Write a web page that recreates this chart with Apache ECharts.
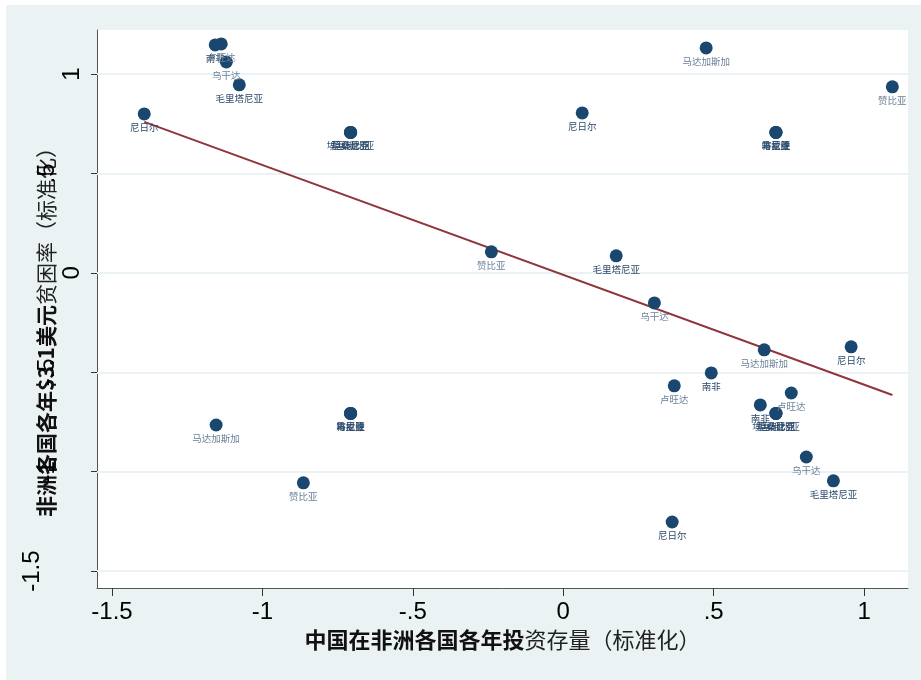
<!DOCTYPE html>
<html>
<head>
<meta charset="utf-8">
<script src="https://cdn.jsdelivr.net/npm/echarts@6/dist/echarts.min.js"></script>
<style>
	html, body { margin: 0; padding: 0; background: #fff; }
	#chart { position: absolute; left: 6px; top: 5px; width: 915px; height: 675px; }
</style>
</head>
<body>
<div id="chart"></div>
<script>
	// 国家名称（每个点的标签）
	var names = [
		'南非', '卢旺达', '乌干达', '毛里塔尼亚', '尼日尔',
		'埃塞俄比亚', '坦桑尼亚', '莫桑比克',
		'马达加斯加', '赞比亚', '尼日尔',
		'喀麦隆', '肯尼亚', '马拉维',
		'赞比亚', '毛里塔尼亚', '乌干达', '马达加斯加', '尼日尔',
		'南非', '卢旺达', '卢旺达', '南非',
		'埃塞俄比亚', '坦桑尼亚', '莫桑比克',
		'乌干达', '毛里塔尼亚', '尼日尔', '马达加斯加',
		'喀麦隆', '肯尼亚', '马拉维',
		'赞比亚'
	];
	// 中国投资存量（标准化）
	var invest = [
		-1.157, -1.137, -1.120, -1.077, -1.393,
		-0.707, -0.707, -0.707,
		0.475, 1.094, 0.063,
		0.707, 0.707, 0.707,
		-0.239, 0.176, 0.303, 0.668, 0.957,
		0.492, 0.369, 0.758, 0.655,
		0.707, 0.707, 0.707,
		0.808, 0.898, 0.362, -1.154,
		-0.707, -0.707, -0.707,
		-0.864
	];
	// $3.1 贫困率（标准化）
	var poverty = [
		1.147, 1.152, 1.061, 0.946, 0.800,
		0.707, 0.707, 0.707,
		1.132, 0.936, 0.805,
		0.707, 0.707, 0.707,
		0.106, 0.086, -0.151, -0.387, -0.372,
		-0.503, -0.568, -0.604, -0.664,
		-0.707, -0.707, -0.707,
		-0.926, -1.046, -1.253, -0.765,
		-0.707, -0.707, -0.707,
		-1.056
	];
	// 拟合线
	var fitX = [-1.393, 1.094];
	var fitY = [0.760, -0.614];
	var xTicks = [-1.5, -1, -0.5, 0, 0.5, 1];
	var yTicks = [-1.5, -1, -0.5, 0, 0.5, 1];

	var lightNames = ['马达加斯加', '乌干达', '赞比亚', '卢旺达'];

	function fmt(v) {
		var s = String(v);
		return s.replace('0.', '.');
	}

	var points = [];
	for (var i = 0; i < names.length; i++) {
		points.push({
			name: names[i],
			value: [invest[i], poverty[i]],
			label: { color: lightNames.indexOf(names[i]) >= 0 ? '#6b819b' : '#2c4a6c' }
		});
	}
	var fitData = [];
	for (var j = 0; j < fitX.length; j++) {
		fitData.push([fitX[j], fitY[j]]);
	}

	var myChart = echarts.init(document.getElementById('chart'));

	function yAxisPart(vals, margin, showLine) {
		return {
			type: 'value',
			min: -1.585,
			max: 1.222,
			position: 'left',
			axisLine: { show: showLine, onZero: false, lineStyle: { color: '#555', width: 1 } },
			axisTick: { show: showLine, length: 6, customValues: yTicks, lineStyle: { color: '#333' } },
			splitLine: { show: false },
			axisLabel: {
				customValues: vals,
				rotate: 90,
				margin: margin,
				fontFamily: 'Liberation Sans',
				fontSize: 24,
				color: '#000',
				formatter: fmt
			}
		};
	}

	var option = {
		backgroundColor: '#eaf2f3',
		animation: false,
		grid: {
			left: 91, top: 25, right: 13, bottom: 92,
			show: true, backgroundColor: '#fff', borderWidth: 0
		},
		xAxis: {
			type: 'value',
			min: -1.55,
			max: 1.146,
			name: '{b|中国在非洲各国各年投}{n|资存量（标准化）}',
			nameLocation: 'middle',
			nameGap: 38,
			nameTextStyle: {
				rich: {
					b: { fontFamily: 'Noto Sans CJK SC', fontSize: 22, fontWeight: 'bold', color: '#111' },
					n: { fontFamily: 'Noto Sans CJK SC', fontSize: 22, color: '#222' }
				}
			},
			axisLine: { onZero: false, lineStyle: { color: '#555', width: 1 } },
			axisTick: { length: 8, customValues: xTicks, lineStyle: { color: '#333' } },
			splitLine: { show: false },
			axisLabel: {
				customValues: xTicks,
				margin: 12,
				fontFamily: 'Liberation Sans',
				fontSize: 24,
				color: '#000',
				formatter: fmt
			}
		},
		yAxis: [
			yAxisPart([1, 0], 13, true),
			yAxisPart([0.5, -0.5, -1], 38, false),
			yAxisPart([-1.5], 53, false)
		],
		graphic: [{
			type: 'text',
			x: 40,
			y: 322,
			rotation: Math.PI / 2,
			style: {
				text: '{b|非洲各国各年$3.1美元}{n|贫困率（标准化）}',
				align: 'center',
				verticalAlign: 'middle',
				rich: {
					b: { fontFamily: 'Noto Sans CJK SC', fontSize: 21, fontWeight: 'bold', fill: '#111' },
					n: { fontFamily: 'Noto Sans CJK SC', fontSize: 21, fill: '#222' }
				}
			}
		}],
		series: [
			{
				type: 'line',
				data: [],
				z: 1,
				markLine: {
					silent: true,
					z: 1,
					symbol: 'none',
					label: { show: false },
					lineStyle: { color: '#eaf2f3', width: 2, type: 'solid' },
					data: yTicks.map(function (v) { return { yAxis: v }; })
				}
			},
			{
				type: 'line',
				data: fitData,
				showSymbol: false,
				lineStyle: { color: '#90353b', width: 2 },
				z: 3
			},
			{
				type: 'scatter',
				data: points,
				symbolSize: 13,
				itemStyle: { color: '#1a476f', opacity: 1 },
				label: {
					show: true,
					position: 'bottom',
					distance: 2,
					formatter: '{b}',
					fontFamily: 'Noto Sans CJK SC',
					fontSize: 9.5
				},
				labelLayout: { hideOverlap: false },
				z: 4
			}
		]
	};
	myChart.setOption(option);
</script>
</body>
</html>
